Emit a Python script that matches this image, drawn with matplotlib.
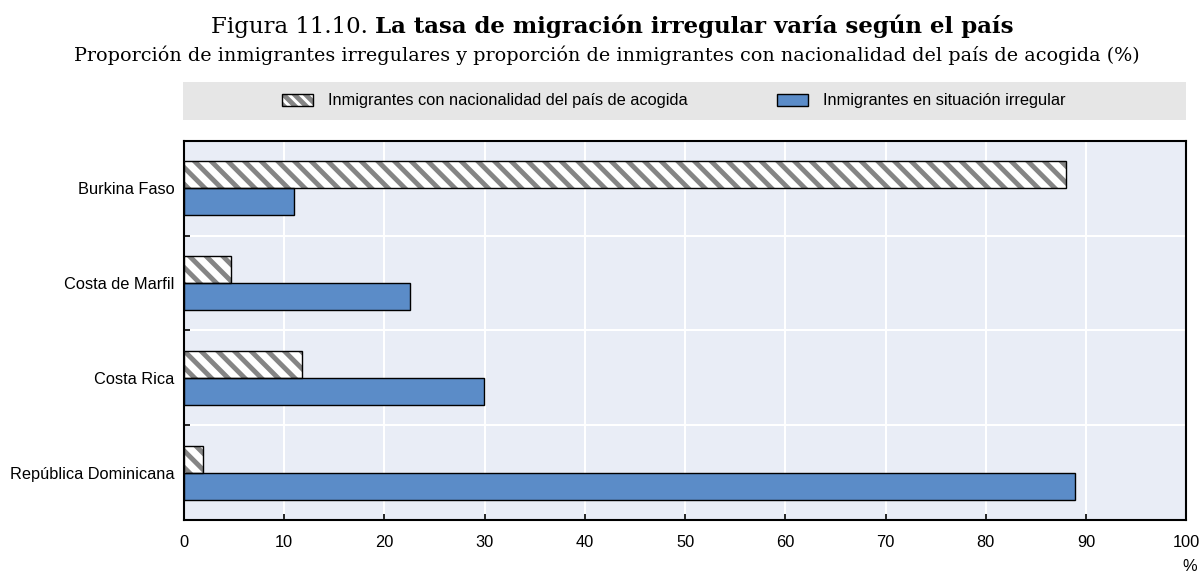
import matplotlib
matplotlib.use('Agg')
import matplotlib.pyplot as plt
import numpy as np
from matplotlib.patches import Patch, Rectangle

paises = ['Burkina Faso', 'Costa de Marfil', 'Costa Rica', 'República Dominicana']
nacionalidad = [88.0, 4.7, 11.8, 1.9]
irregular = [11.0, 22.5, 29.9, 88.9]
xticks = [0, 10, 20, 30, 40, 50, 60, 70, 80, 90, 100]

azul = '#5b8cc8'
fondo = '#e9edf6'
gris_rayado = '#858585'
serif = ['DejaVu Serif']
plt.rcParams['hatch.linewidth'] = 3.5
plt.rcParams['font.family'] = ['Liberation Sans', 'DejaVu Sans']

fig = plt.figure(figsize=(12.03, 5.77), dpi=100)
ax = fig.add_axes([0.153, 0.0988, 0.833, 0.657])
ax.set_facecolor(fondo)

y = np.arange(len(paises))
h = 0.285
# barras rayadas: primero el rayado gris, luego el borde negro
ax.barh(y - h / 2, nacionalidad, height=h, color='white', edgecolor=gris_rayado,
        hatch='\\\\', linewidth=0, zorder=3)
ax.barh(y - h / 2, nacionalidad, height=h, fill=False, edgecolor='black',
        linewidth=1, zorder=4)
ax.barh(y + h / 2, irregular, height=h, color=azul, edgecolor='black',
        linewidth=1, zorder=3)

ax.set_ylim(len(paises) - 0.5, -0.5)
ax.set_xlim(0, 100)
ax.set_yticks(y)
ax.set_yticklabels(paises, fontsize=11.8)
ax.set_yticks(np.arange(len(paises) + 1) - 0.5, minor=True)
ax.tick_params(axis='y', which='major', length=0, pad=7)
ax.tick_params(axis='y', which='minor', length=4, width=1.2, direction='in')
ax.set_xticks(xticks)
ax.set_xticklabels([str(t) for t in xticks], fontsize=11.8)
ax.tick_params(axis='x', length=4, width=1.2, direction='in', pad=11)

ax.grid(axis='x', color='white', linewidth=1.5, zorder=1)
ax.grid(axis='y', which='minor', color='white', linewidth=1.5, zorder=1)
ax.set_axisbelow(True)
for s in ax.spines.values():
    s.set_linewidth(1.5)

fig.text(0.995, 0.01, '%', ha='right', fontsize=11.8)

# títulos: parte normal + parte en negrita, centrados juntos
t1 = fig.text(0, 0.943, 'Figura 11.10. ', ha='left', va='baseline', fontsize=16.5, family=serif)
t2 = fig.text(0, 0.943, 'La tasa de migración irregular varía según el país', ha='left',
              va='baseline', fontsize=16.5, fontweight='bold', family=serif)
r = fig.canvas.get_renderer()
w1 = t1.get_window_extent(r).width / fig.bbox.width
w2 = t2.get_window_extent(r).width / fig.bbox.width
x0 = 612 / 1203 - (w1 + w2) / 2
t1.set_x(x0)
t2.set_x(x0 + w1)
fig.text(607 / 1203, 0.894, 'Proporción de inmigrantes irregulares y proporción de inmigrantes '
         'con nacionalidad del país de acogida (%)', ha='center', va='baseline',
         fontsize=13.8, family=serif)

# leyenda sobre banda gris
fig.patches.append(Rectangle((0.152, 0.792), 0.834, 0.066, transform=fig.transFigure,
                             facecolor='#e6e6e6', edgecolor='none'))
rayado = (Patch(facecolor='white', edgecolor=gris_rayado, hatch='\\\\\\', linewidth=0),
          Patch(fill=False, edgecolor='black', linewidth=1))
handles = [rayado, Patch(facecolor=azul, edgecolor='black')]
labels = ['Inmigrantes con nacionalidad del país de acogida',
          'Inmigrantes en situación irregular']
fig.legend(handles, labels, loc='center', bbox_to_anchor=(0.560, 0.825), ncol=2,
           frameon=False, fontsize=11.8, handlelength=1.9, handleheight=0.75,
           columnspacing=5.5, handletextpad=0.9)

fig.savefig('out.png', dpi=100)
